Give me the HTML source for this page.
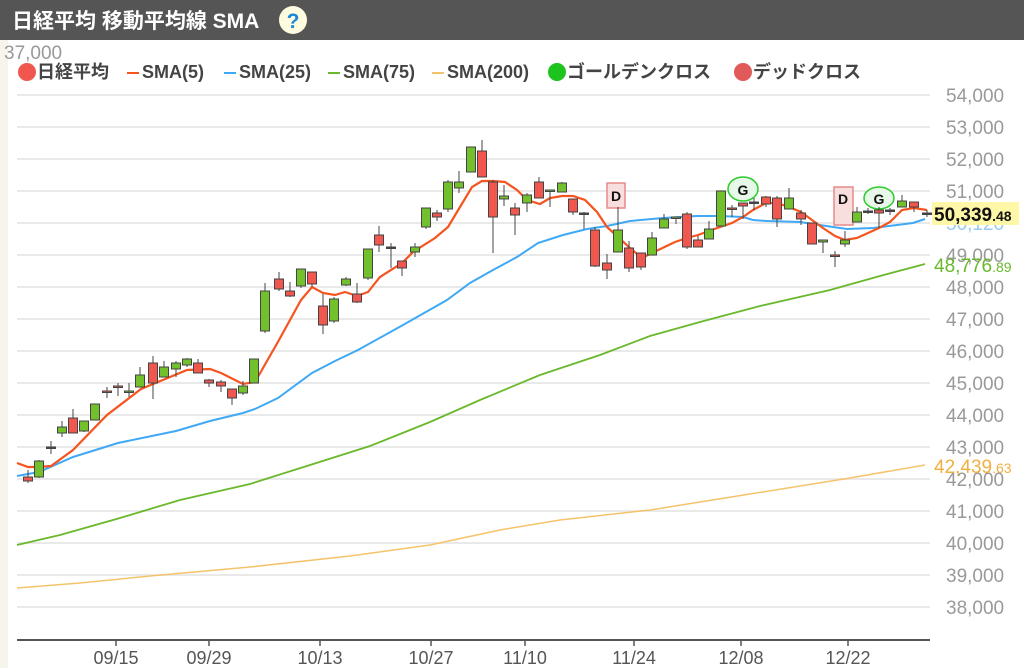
<!DOCTYPE html>
<html><head><meta charset="utf-8"><style>
body{margin:0;width:1024px;height:668px;overflow:hidden;background:#fff;font-family:"Liberation Sans","Noto Sans CJK JP",sans-serif}
</style></head><body>
<svg width="1024" height="668" xmlns="http://www.w3.org/2000/svg" style="position:absolute;left:0;top:0;font-family:'Liberation Sans','Noto Sans CJK JP',sans-serif">
<rect x="0" y="40" width="8" height="628" fill="#f6f4ec"/>
<rect x="0" y="0" width="1024" height="40" fill="#555"/>
<text x="12" y="28" font-size="21" font-weight="bold" fill="#fff">日経平均 移動平均線 SMA</text>
<circle cx="293" cy="20" r="14" fill="#fffbe0"/>
<text x="293" y="28" font-size="21" font-weight="bold" fill="#1a8ad4" text-anchor="middle">?</text>
<text x="4" y="59" font-size="19" fill="#999">37,000</text>
<g font-size="18" font-weight="bold" fill="#444">
<circle cx="27" cy="72" r="9" fill="#f0584f"/><text x="37" y="78">日経平均</text>
<line x1="127" y1="73" x2="139" y2="73" stroke="#f5541e" stroke-width="2"/><text x="142" y="78">SMA(5)</text>
<line x1="224" y1="73" x2="236" y2="73" stroke="#3fa9f5" stroke-width="2"/><text x="239" y="78">SMA(25)</text>
<line x1="328" y1="73" x2="340" y2="73" stroke="#6ab82c" stroke-width="2"/><text x="343" y="78">SMA(75)</text>
<line x1="432" y1="73" x2="444" y2="73" stroke="#f5c36b" stroke-width="2"/><text x="447" y="78">SMA(200)</text>
<circle cx="557" cy="72" r="9" fill="#1ec31e"/><text x="567" y="78">ゴールデンクロス</text>
<circle cx="743" cy="72" r="9" fill="#e05a5a"/><text x="753" y="78">デッドクロス</text>
</g>
<g stroke="#e9e9e9" stroke-width="2">
<line x1="17" x2="930" y1="95" y2="95"/><line x1="17" x2="930" y1="127" y2="127"/><line x1="17" x2="930" y1="159" y2="159"/><line x1="17" x2="930" y1="191" y2="191"/><line x1="17" x2="930" y1="223" y2="223"/><line x1="17" x2="930" y1="255" y2="255"/><line x1="17" x2="930" y1="287" y2="287"/><line x1="17" x2="930" y1="319" y2="319"/><line x1="17" x2="930" y1="351" y2="351"/><line x1="17" x2="930" y1="383" y2="383"/><line x1="17" x2="930" y1="415" y2="415"/><line x1="17" x2="930" y1="447" y2="447"/><line x1="17" x2="930" y1="479" y2="479"/><line x1="17" x2="930" y1="511" y2="511"/><line x1="17" x2="930" y1="543" y2="543"/><line x1="17" x2="930" y1="575" y2="575"/><line x1="17" x2="930" y1="607" y2="607"/>
</g>
<g font-size="19" fill="#999">
<text x="946" y="102">54,000</text><text x="946" y="134">53,000</text><text x="946" y="166">52,000</text><text x="946" y="198">51,000</text><text x="946" y="262">49,000</text><text x="946" y="294">48,000</text><text x="946" y="326">47,000</text><text x="946" y="358">46,000</text><text x="946" y="390">45,000</text><text x="946" y="422">44,000</text><text x="946" y="454">43,000</text><text x="946" y="486">42,000</text><text x="946" y="518">41,000</text><text x="946" y="550">40,000</text><text x="946" y="582">39,000</text><text x="946" y="614">38,000</text>
<text x="946" y="230" fill="#9cc9ee">50,120</text>
</g>
<rect x="607" y="183" width="18" height="25" fill="#f9dede" stroke="#e88a8a" stroke-width="1.5"/>
<rect x="834" y="187" width="19" height="38" fill="#f9dede" stroke="#e88a8a" stroke-width="1.5"/>
<ellipse cx="743" cy="189" rx="15" ry="12" fill="#e8f8e8" stroke="#2ccc2c" stroke-width="1.5"/>
<ellipse cx="879" cy="198" rx="15" ry="11" fill="#e8f8e8" stroke="#2ccc2c" stroke-width="1.5"/>
<g font-size="14" font-weight="bold" fill="#111" text-anchor="middle">
<text x="616" y="201">D</text><text x="843" y="204">D</text><text x="743" y="195">G</text><text x="879" y="204">G</text>
</g>
<polyline fill="none" stroke="#f5c36b" stroke-width="1.5" points="17,588 80,583 150,576 250,567 350,556 430,545 500,530 560,520 650,510 750,494 850,478 925,465"/>
<polyline fill="none" stroke="#6ab82c" stroke-width="1.8" points="17,545 60,535 120,518 180,500 250,484 310,465 370,446 430,422 480,400 540,375 600,355 650,336 700,322 760,306 830,290 880,276 925,264"/>
<polyline fill="none" stroke="#3fa9f5" stroke-width="2" points="17,476 39,472 73,457 118,443 176,431 210,421 243,413 255,409 278,398 312,373 335,361 358,350 403,325 447,300 470,283 493,270 517,257 538,243 563,235 587,229 607,226 630,221 663,218 697,216 720,216 743,217 753,220 767,221 800,222 833,227 847,229 873,228 897,225 913,223 925,219"/>
<polyline fill="none" stroke="#f5541e" stroke-width="2.2" points="17,463 28,467 39,467 51,466 73,450 107,415 141,389 187,370 210,369 221,373 243,384 255,382 279,340 301,300 312,287 323,293 335,295 345,292 357,296 368,292 380,277 402,263 413,252 435,238 448,227 460,207 472,187 482,181 493,181 505,182 517,190 527,200 540,204 550,198 562,196 573,196 585,200 597,212 607,227 618,237 630,248 642,258 652,253 675,242 687,238 698,235 720,227 732,223 743,217 753,210 766,203 777,203 789,207 801,212 812,220 823,228 835,236 845,240 857,238 868,233 879,228 890,222 902,210 914,208 927,210"/>
<g id="c" stroke="#444" stroke-width="1"></g>
<line x1="17" y1="640" x2="930" y2="640" stroke="#555" stroke-width="2"/>
<g stroke="#555" stroke-width="1.5"><line x1="116" x2="116" y1="640" y2="646"/><line x1="209" x2="209" y1="640" y2="646"/><line x1="320" x2="320" y1="640" y2="646"/><line x1="431" x2="431" y1="640" y2="646"/><line x1="525" x2="525" y1="640" y2="646"/><line x1="634" x2="634" y1="640" y2="646"/><line x1="741" x2="741" y1="640" y2="646"/><line x1="848" x2="848" y1="640" y2="646"/></g>
<g font-size="18" fill="#555" text-anchor="middle"><text x="116" y="664">09/15</text><text x="209" y="664">09/29</text><text x="320" y="664">10/13</text><text x="431" y="664">10/27</text><text x="525" y="664">11/10</text><text x="634" y="664">11/24</text><text x="741" y="664">12/08</text><text x="848" y="664">12/22</text></g>
<rect x="932" y="202" width="87" height="23" fill="#fff7a8"/>
<text x="934" y="221" font-size="19" font-weight="bold" fill="#111">50,339<tspan font-size="14">.48</tspan></text>
<text x="934" y="272" font-size="19" fill="#6ab82c">48,776<tspan font-size="14">.89</tspan></text>
<text x="934" y="473" font-size="19" fill="#f0b040">42,439<tspan font-size="14">.63</tspan></text>
</svg>
<script>
var d=[[28,'r',477,481,470,483],[39,'g',461,477,460,478],[51,'k',447,447,441,454],[62,'g',427,433,421,437],[73,'r',418,433,409,433],[84,'g',421,431,421,432],[95,'g',404,420,404,420],[107,'r',391,391,387,398],[118,'r',386,387,383,396],[129,'g',391,392,383,397],[140,'g',375,387,367,387],[153,'r',363,383,356,399],[164,'g',367,377,361,377],[176,'g',363,369,361,377],[187,'g',359,365,358,367],[198,'r',363,373,359,373],[209,'r',380,383,379,387],[221,'r',382,386,380,392],[232,'r',389,398,389,405],[243,'g',386,393,381,395],[254,'g',359,383,359,383],[265,'g',291,331,283,333],[279,'r',279,289,272,291],[290,'r',291,296,282,297],[301,'g',269,286,269,288],[312,'r',272,284,272,287],[323,'r',306,325,294,334],[334,'g',299,321,297,323],[346,'g',279,285,277,286],[357,'r',294,302,283,303],[368,'g',249,278,249,280],[379,'r',235,245,226,252],[391,'k',247,247,243,268],[402,'r',261,268,261,276],[415,'g',247,252,243,257],[426,'g',208,227,208,229],[437,'r',213,217,210,221],[448,'g',182,209,180,212],[459,'g',182,188,171,193],[471,'g',147,172,147,172],[482,'r',151,177,140,177],[493,'r',182,217,180,253],[504,'g',196,199,185,206],[515,'r',208,215,203,235],[527,'g',195,203,193,212],[539,'r',182,198,177,198],[550,'g',190,191,190,207],[562,'g',183,192,182,192],[573,'r',199,212,199,215],[584,'k',213,213,212,229],[595,'r',230,266,227,267],[607,'r',263,270,254,279],[618,'g',230,252,207,252],[629,'r',248,268,241,272],[641,'r',253,267,253,270],[652,'g',238,255,232,255],[664,'g',219,228,214,228],[676,'g',217,218,217,224],[687,'r',214,247,212,249],[698,'r',240,247,236,247],[709,'g',229,239,221,239],[721,'g',191,226,191,226],[732,'r',208,208,205,217],[743,'r',203,206,203,219],[754,'k',202,202,198,210],[766,'r',197,204,196,207],[777,'r',198,219,196,227],[789,'g',198,209,188,209],[801,'r',213,219,210,225],[812,'r',223,244,223,244],[823,'g',240,242,240,253],[835,'r',255,256,251,267],[845,'g',240,244,231,247],[857,'g',212,222,207,222],[868,'k',211,211,208,214],[879,'r',210,213,207,228],[890,'k',210,210,208,215],[902,'g',201,207,195,207],[914,'r',202,207,202,212],[927,'k',213,213,210,217]];
var s='';d.forEach(function(c){var f=c[1]=='r'?'#f0584f':c[1]=='g'?'#72c12c':'#444';s+='<line x1="'+c[0]+'" x2="'+c[0]+'" y1="'+c[4]+'" y2="'+c[5]+'"/>';var h=Math.max(c[3]-c[2],1.5);s+='<rect x="'+(c[0]-4.5)+'" y="'+c[2]+'" width="9" height="'+h+'" fill="'+f+'"/>';});
document.getElementById('c').innerHTML=s;
</script>
</body></html>
